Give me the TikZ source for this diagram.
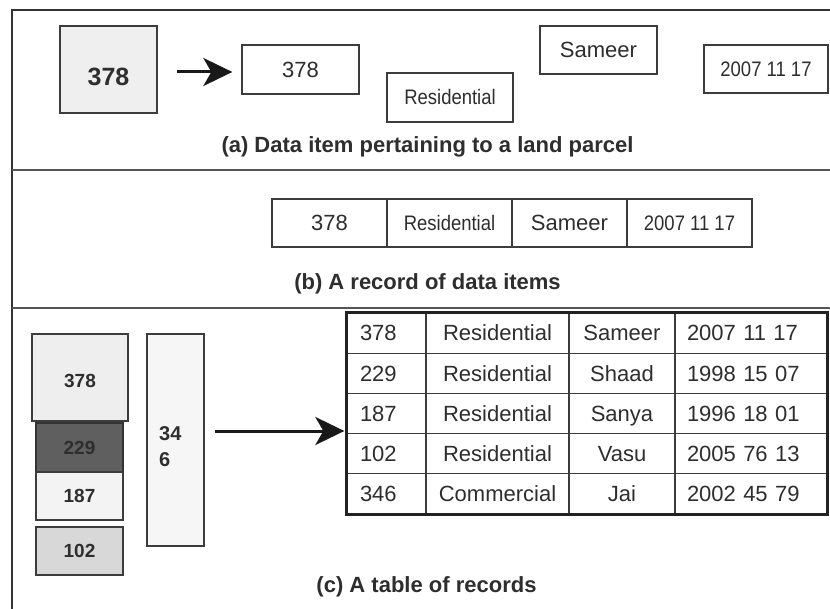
\documentclass[tikz,border=0pt]{standalone}
\usepackage{fontspec}
\setmainfont{Liberation Sans}
\newfontfamily\narrowf{Liberation Sans}[FakeStretch=0.88]
\usetikzlibrary{arrows.meta}
\definecolor{txt}{HTML}{2E2E2E}
\definecolor{linecol}{HTML}{3C3C3C}
\definecolor{framecol}{HTML}{333333}
\definecolor{sepcol}{HTML}{555555}
\definecolor{tabborder}{HTML}{222222}
\definecolor{gA}{HTML}{EFEFEF}
\definecolor{cA}{HTML}{EEEEEE}
\definecolor{cB}{HTML}{5F5F5F}
\definecolor{cC}{HTML}{F3F3F3}
\definecolor{cD}{HTML}{D8D8D8}
\definecolor{cE}{HTML}{F6F6F6}
\tikzset{
  box/.style={draw=linecol, line width=1.3pt, inner sep=0pt, text=txt},
  ftw/.style={font=\fontsize{22}{26}\selectfont, text height=15.8pt, text depth=0pt},
  fnar/.style={font=\narrowf\fontsize{21}{25}\selectfont, text height=15pt, text depth=0pt},
  fbold/.style={font=\bfseries\fontsize{19}{23}\selectfont, text height=13.6pt, text depth=0pt},
  captext/.style={font=\bfseries\fontsize{22}{26}\selectfont, text=txt, inner sep=0pt},
  bigarrow/.style={draw=black!90, line width=3pt, -{Stealth[length=29pt,width=28pt,inset=8pt]}},
  cell/.style={draw=linecol, line width=1.3pt, ftw, text=txt, minimum height=40.2pt, inner ysep=0pt},
}
\begin{document}
\begin{tikzpicture}[x=1pt,y=-1pt]
\useasboundingbox (0,0) rectangle (830,609);
\fill[white] (0,0) rectangle (830,609);

% frame and separators
\draw[framecol, line width=2.5pt] (12,609) -- (12,10) -- (830,10);
\draw[sepcol, line width=1.5pt] (12,170) -- (830,170);
\draw[sepcol, line width=1.5pt] (12,308) -- (830,308);

% (a)
\node[box, fill=gA, minimum width=97pt, minimum height=87pt,
      font=\bfseries\fontsize{25}{30}\selectfont, text height=33pt, text depth=0pt] (g378) at (108.5,69.5) {378};
\node[box, ftw, minimum width=117pt, minimum height=49pt] (a378) at (300.5,69.5) {378};
\node[box, fnar, minimum width=126pt, minimum height=49pt] (ares) at (450,97.5) {Residential};
\node[box, ftw, minimum width=117pt, minimum height=48pt] (asam) at (598.5,50) {Sameer};
\node[box, fnar, minimum width=124pt, minimum height=48pt] (adate) at (766,69) {2007 11 17};
\coordinate (arrA) at ([xshift=19pt,yshift=-2.5pt]g378.east);
\draw[bigarrow, shorten >=9pt] (arrA) -- (arrA -| a378.west);
\node[captext, anchor=base] (capA) at (427.5,153) {(a) Data item pertaining to a land parcel};

% (b)
\node[box, ftw, minimum width=115pt, minimum height=48pt] (r1) at (329.5,223) {378};
\node[box, fnar, minimum width=125pt, minimum height=48pt] (r2) at (449.5,223) {Residential};
\node[box, ftw, minimum width=115pt, minimum height=48pt] (r3) at (569.5,223) {Sameer};
\node[box, fnar, minimum width=125pt, minimum height=48pt] (r4) at (689.5,223) {2007 11 17};
\node[captext, anchor=base] (capB) at (427.5,290) {(b) A record of data items};

% (c) left stack
\node[box, fill=cA, fbold, text height=20.6pt, minimum width=96pt, minimum height=87pt] (c378) at (80,377.5) {378};
\node[box, fill=cB, fbold, draw=framecol, minimum width=87pt, minimum height=49pt] (c229) at (79.5,447.5) {229};
\node[box, fill=cC, fbold, minimum width=87pt, minimum height=48pt] (c187) at (79.5,496) {187};
\node[box, fill=cD, fbold, minimum width=87pt, minimum height=48pt] (c102) at (79.5,551) {102};
\node[box, fill=cE, minimum width=57pt, minimum height=212pt] (c346) at (175.5,440) {};
\node[anchor=north west, align=left, font=\bfseries\fontsize{20}{26}\selectfont, text=txt, inner sep=0pt] (t346) at (159,426.5) {34\\6};

% (c) table
\foreach \r/\a/\b/\c/\d in {1/378/Residential/Sameer/2007 11 17,
                            2/229/Residential/Shaad/1998 15 07,
                            3/187/Residential/Sanya/1996 18 01,
                            4/102/Residential/Vasu/2005 76 13,
                            5/346/Commercial/Jai/2002 45 79}{
  \pgfmathsetmacro\yy{313+40.2*(\r-0.5)}
  \node[cell, text width=53pt, inner xsep=13pt, align=left] (t\r a) at (386.5,\yy) {\a};
  \node[cell, minimum width=143pt, inner xsep=0pt] (t\r b) at (497.5,\yy) {\b};
  \node[cell, minimum width=106pt, inner xsep=0pt] (t\r c) at (622,\yy) {\c};
  \node[cell, text width=128pt, inner xsep=12pt, align=left] (t\r d) at (751,\yy) {\d};
}
\draw[tabborder, line width=3pt] (t1a.north west) rectangle (t5d.south east);

\coordinate (arrC) at ([xshift=10pt,yshift=9pt]c346.east);
\draw[bigarrow, shorten >=2pt] (arrC) -- (arrC -| t1a.west);
\node[captext, anchor=base] (capC) at (426.5,592) {(c) A table of records};
\end{tikzpicture}
\end{document}
